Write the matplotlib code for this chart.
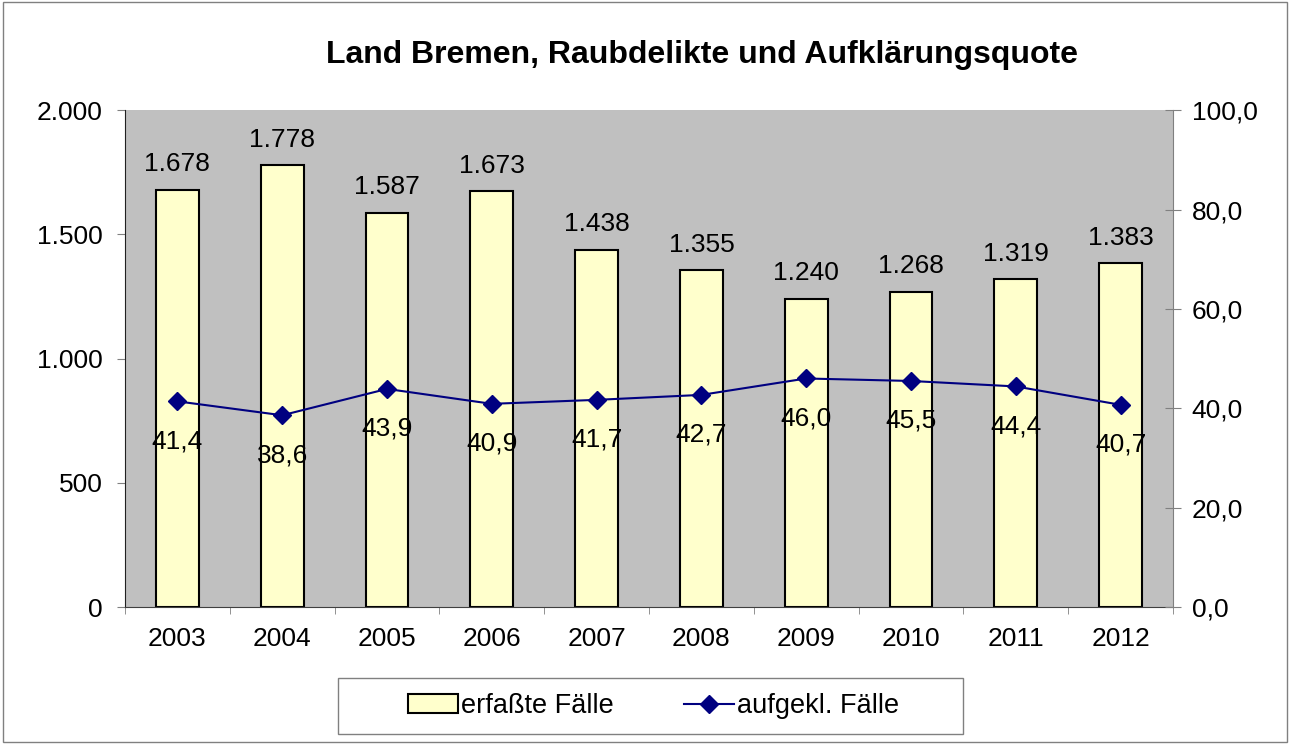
import matplotlib.pyplot as plt
from matplotlib.patches import Rectangle
from matplotlib.lines import Line2D

plt.rcParams['font.family'] = ['Liberation Sans', 'DejaVu Sans']

years = ['2003', '2004', '2005', '2006', '2007', '2008', '2009', '2010', '2011', '2012']
erfasst = [1678, 1778, 1587, 1673, 1438, 1355, 1240, 1268, 1319, 1383]
quote = [41.4, 38.6, 43.9, 40.9, 41.7, 42.7, 46.0, 45.5, 44.4, 40.7]


def de_int(v):
    return f'{v:,.0f}'.replace(',', '.')


def de_dec(v):
    return f'{v:.1f}'.replace('.', ',')


fig = plt.figure(figsize=(12.9, 7.44), dpi=100)
fig.patches.append(Rectangle((0.002, 0.003), 0.996, 0.994, transform=fig.transFigure,
                             fill=False, edgecolor='#808080', linewidth=1))

ax = fig.add_axes([0.0969, 0.184, 0.8124, 0.668])
ax.set_facecolor('#c0c0c0')
x = range(len(years))
ax.bar(x, erfasst, width=0.41, color='#ffffcc', edgecolor='black', linewidth=1.5, zorder=2)
for i, v in enumerate(erfasst):
    ax.text(i, v + 55, de_int(v), ha='center', va='bottom', fontsize=19)

ax.set_xlim(-0.5, len(years) - 0.5)
ax.set_ylim(0, 2000)
ax.set_yticks([0, 500, 1000, 1500, 2000])
ax.set_yticklabels([de_int(v) for v in [0, 500, 1000, 1500, 2000]])
ax.set_xticks(list(x))
ax.set_xticklabels(years)
ax.tick_params(labelsize=19, length=6, color='#808080')
ax.tick_params(axis='y', pad=10)
ax.tick_params(axis='x', length=0, pad=14)
ax.set_xticks([i + 0.5 for i in range(-1, len(years))], minor=True)
ax.tick_params(axis='x', which='minor', length=5, color='#808080')
for s in ['top', 'right']:
    ax.spines[s].set_visible(False)
ax.spines['left'].set_color('#202020')
ax.spines['bottom'].set_color('#404040')

ax2 = ax.twinx()
ax2.plot(list(x), quote, color='#000080', marker='D', markersize=9, linewidth=1.5, zorder=3)
for i, v in enumerate(quote):
    ax2.text(i, v - 5.6, de_dec(v), ha='center', va='top', fontsize=19)
ax2.set_ylim(0, 100)
ax2.set_yticks([0, 20, 40, 60, 80, 100])
ax2.set_yticklabels([de_dec(v) for v in [0, 20, 40, 60, 80, 100]])
ax2.tick_params(labelsize=19, length=11, color='#808080', direction='inout', pad=8)
for s in ['top', 'left', 'bottom']:
    ax2.spines[s].set_visible(False)
ax2.spines['right'].set_color('#808080')

fig.text(0.544, 0.926, 'Land Bremen, Raubdelikte und Aufklärungsquote',
         ha='center', va='center', fontsize=23, fontweight='bold')

# legend frame drawn separately, Excel style
fig.patches.append(Rectangle((338 / 1290, 1 - 734 / 744), 625 / 1290, 56 / 744,
                             transform=fig.transFigure, facecolor='white',
                             edgecolor='#808080', linewidth=1))
handles = [Rectangle((0, 0), 1, 1, facecolor='#ffffcc', edgecolor='black', linewidth=1.5),
           Line2D([], [], color='#000080', marker='D', markersize=9, linewidth=1.5)]
leg = fig.legend(handles, ['erfaßte Fälle', 'aufgekl. Fälle'], loc='center left',
                 bbox_to_anchor=(408 / 1290, 1 - 706 / 744), ncol=2, fontsize=19.5,
                 frameon=False, borderpad=0, borderaxespad=0,
                 columnspacing=2.6, handlelength=1.85, handletextpad=0.1)

fig.savefig('out.png', dpi=100)
